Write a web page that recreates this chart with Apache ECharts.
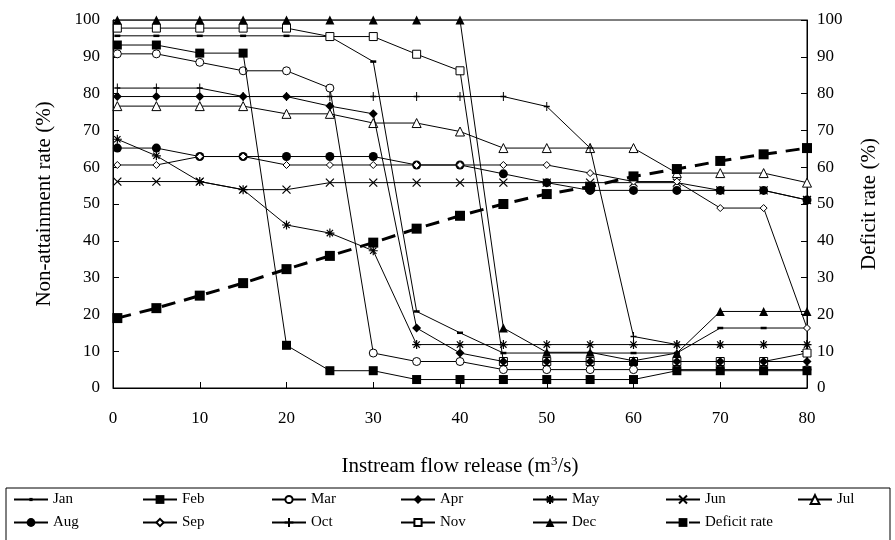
<!DOCTYPE html>
<html>
<head>
<meta charset="utf-8">
<script src="https://cdn.jsdelivr.net/npm/echarts@6/dist/echarts.min.js"></script>
<style>html,body{margin:0;padding:0;background:#fff;}#c{width:895px;height:540px;}</style>
</head>
<body>
<div id="c"></div>
<script>
var flows = [0.5, 5, 10, 15, 20, 25, 30, 35, 40, 45, 50, 55, 60, 65, 70, 75, 80];
var xTicks = [0, 10, 20, 30, 40, 50, 60, 70, 80];
var yTicks = [0, 10, 20, 30, 40, 50, 60, 70, 80, 90, 100];

var jan = [95.7, 95.7, 95.7, 95.7, 95.7, 95.5, 88.7, 20.8, 15.0, 9.5, 9.5, 9.5, 9.5, 9.5, 16.3, 16.3, 16.3];
var feb = [93.2, 93.2, 91.0, 91.0, 11.6, 4.7, 4.7, 2.3, 2.3, 2.3, 2.3, 2.3, 2.3, 4.7, 4.7, 4.7, 4.7];
var mar = [90.8, 90.8, 88.5, 86.2, 86.2, 81.5, 9.5, 7.2, 7.2, 5.0, 5.0, 5.0, 5.0, 5.0, 5.0, 5.0, 5.0];
var apr = [79.2, 79.2, 79.2, 79.2, 79.2, 76.6, 74.5, 16.3, 9.5, 7.2, 7.2, 7.2, 7.2, 7.2, 7.2, 7.2, 7.2];
var may = [67.6, 63.1, 56.1, 53.9, 44.3, 42.1, 37.3, 11.8, 11.8, 11.8, 11.8, 11.8, 11.8, 11.8, 11.8, 11.8, 11.8];
var jun = [56.1, 56.1, 56.1, 53.9, 53.9, 55.8, 55.8, 55.8, 55.8, 55.8, 55.8, 55.8, 55.8, 55.8, 53.7, 53.7, 51.1];
var jul = [76.6, 76.6, 76.6, 76.6, 74.5, 74.5, 72.0, 72.0, 69.7, 65.2, 65.2, 65.2, 65.2, 58.4, 58.4, 58.4, 55.8];
var aug = [65.2, 65.2, 62.9, 62.9, 62.9, 62.9, 62.9, 60.6, 60.6, 58.2, 55.8, 53.7, 53.7, 53.7, 53.7, 53.7, 51.1];
var sep = [60.6, 60.6, 62.9, 62.9, 60.6, 60.6, 60.6, 60.6, 60.6, 60.6, 60.6, 58.4, 56.1, 56.1, 48.9, 48.9, 16.3];
var oct = [81.5, 81.5, 81.5, 79.2, 79.2, 79.2, 79.2, 79.2, 79.2, 79.2, 76.5, 65.2, 14.0, 11.8, 11.8, 11.8, 11.8];
var nov = [97.8, 97.8, 97.8, 97.8, 97.8, 95.5, 95.5, 90.7, 86.2, 7.2, 7.2, 7.2, 7.2, 7.2, 7.2, 7.2, 9.5];
var dec = [100, 100, 100, 100, 100, 100, 100, 100, 100, 16.3, 9.7, 9.7, 7.4, 9.5, 20.8, 20.8, 20.8];
var deficit = [19.0, 21.7, 25.1, 28.5, 32.3, 35.9, 39.5, 43.3, 46.8, 50.0, 52.7, 54.7, 57.5, 59.5, 61.7, 63.5, 65.2];

var names = ['Jan','Feb','Mar','Apr','May','Jun','Jul','Aug','Sep','Oct','Nov','Dec','Deficit rate'];
var values = [jan, feb, mar, apr, may, jun, jul, aug, sep, oct, nov, dec, deficit];

var FONT = '"Liberation Serif", "Times New Roman", serif';
var filled = {color:'#000', borderColor:'#000', borderWidth:0};
var open = {color:'#fff', borderColor:'#000', borderWidth:1};
var stroke = {color:'#fff', borderColor:'#000', borderWidth:1.2};
// symbol, size on plot, legend item height (legend symbol = 0.8 * height), drawing order
var markers = [
  {symbol:'rect', size:[6,2.5], style:filled, lh:4, z:2},
  {symbol:'rect', size:9, style:filled, lh:11, z:4},
  {symbol:'circle', size:8, style:open, lh:9, z:2},
  {symbol:'diamond', size:9, style:filled, lh:11, z:4},
  {symbol:'path://M0,5L10,5M5,0L5,10M1.5,1.5L8.5,8.5M8.5,1.5L1.5,8.5', size:9, style:stroke, lh:11, z:2},
  {symbol:'path://M0,0L10,10M10,0L0,10', size:8, style:stroke, lh:10, z:2},
  {symbol:'triangle', size:9, style:open, lh:11, z:2},
  {symbol:'circle', size:9, style:filled, lh:11, z:2},
  {symbol:'diamond', size:7, style:open, lh:9, z:2},
  {symbol:'path://M0,5L6,5M3,0L3,10', size:[6,9], style:stroke, lh:11, z:2},
  {symbol:'rect', size:8, style:open, lh:9, z:2},
  {symbol:'triangle', size:9, style:filled, lh:11, z:3},
  {symbol:'rect', size:10, style:filled, lh:11, z:5}
];

function pairs(arr){ return flows.map(function(x,i){ return [x, arr[i]]; }); }

var series = names.map(function(n, i){
  var isDef = (i === 12);
  return {
    name: n,
    type: 'line',
    yAxisIndex: isDef ? 1 : 0,
    data: pairs(values[i]),
    symbol: markers[i].symbol,
    symbolSize: markers[i].size,
    showAllSymbol: true,
    animation: false,
    z: markers[i].z,
    itemStyle: markers[i].style,
    lineStyle: {color:'#000', width: isDef ? 3 : 1, type: isDef ? [14,9] : 'solid'}
  };
});

var colX = [13, 142, 271, 400, 532, 665, 797];
var rowTop = [492, 515];
var legends = names.map(function(n, i){
  var row = i < 7 ? 0 : 1;
  var col = i < 7 ? i : i - 7;
  return {
    data:[n], left: colX[col], top: rowTop[row],
    padding:0, itemGap:0, itemWidth:34, itemHeight:markers[i].lh,
    textStyle:{fontFamily:FONT, fontSize:15, color:'#000'}
  };
});

var axisCommon = {
  axisLine:{show:true, lineStyle:{color:'#000', width:1}},
  axisTick:{show:true, inside:true, length:6, lineStyle:{color:'#000'}},
  splitLine:{show:false}
};

var option = {
  backgroundColor:'#fff',
  animation:false,
  grid:{left:113, right:88, top:20, bottom:152, show:true, borderColor:'#000', borderWidth:1},
  legend: legends,
  graphic:[{type:'rect', shape:{x:6, y:488, width:884, height:70}, style:{fill:'none', stroke:'#000', lineWidth:1}, silent:true}],
  xAxis: Object.assign({
    type:'value', min:xTicks[0], max:xTicks[xTicks.length-1], interval:10,
    name:'Instream flow release (m{sup|3}/s)', nameLocation:'middle', nameGap:67,
    nameTextStyle:{fontFamily:FONT, fontSize:21, color:'#000', rich:{sup:{fontFamily:FONT, fontSize:13, verticalAlign:'top', padding:[0,0,10,0]}}},
    axisLabel:{fontFamily:FONT, fontSize:17, color:'#000', margin:22}
  }, axisCommon),
  yAxis:[
    Object.assign({
      type:'value', min:yTicks[0], max:yTicks[yTicks.length-1], interval:10, position:'left',
      name:'Non-attainment rate (%)', nameLocation:'middle', nameGap:58, nameRotate:90,
      nameTextStyle:{fontFamily:FONT, fontSize:21, color:'#000'},
      axisLabel:{fontFamily:FONT, fontSize:17, color:'#000', margin:13}
    }, axisCommon),
    Object.assign({
      type:'value', min:yTicks[0], max:yTicks[yTicks.length-1], interval:10, position:'right',
      name:'Deficit rate (%)', nameLocation:'middle', nameGap:52, nameRotate:90,
      nameTextStyle:{fontFamily:FONT, fontSize:21, color:'#000'},
      axisLabel:{fontFamily:FONT, fontSize:17, color:'#000', margin:10}
    }, axisCommon)
  ],
  series: series
};

var chart = echarts.init(document.getElementById('c'), null, {renderer:'canvas'});
chart.setOption(option);
</script>
</body>
</html>
